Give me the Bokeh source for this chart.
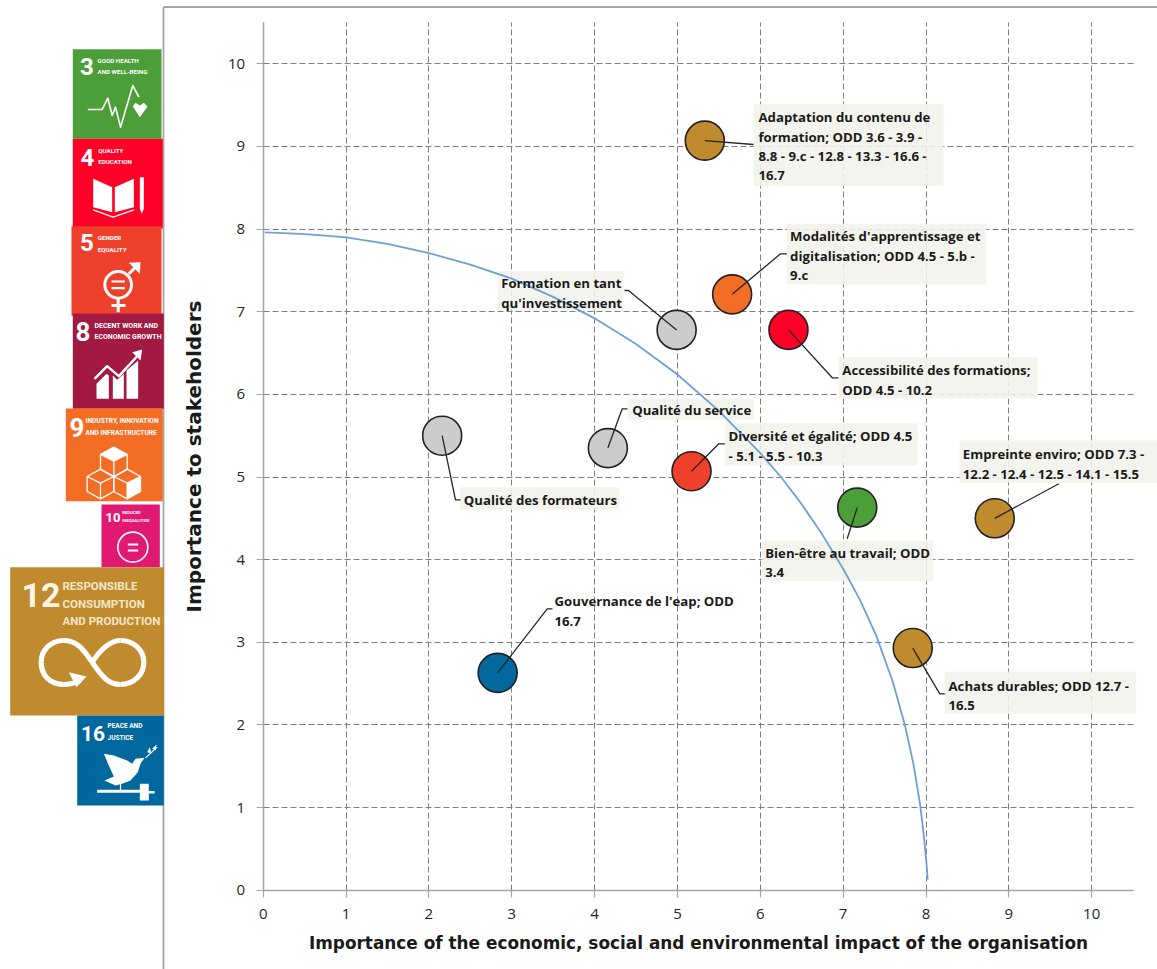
from bokeh.plotting import figure
from bokeh.embed import file_html
from bokeh.resources import INLINE
from bokeh.models import LinearAxis, Grid, FixedTicker, Range1d
from bokeh.core.properties import value

# ---------- data ----------
names = ["Adaptation", "Modalites", "Formation", "Accessibilite", "Diversite", "BienEtre",
         "Empreinte", "Achats", "QFormateurs", "QService", "Gouvernance"]
x_values = [5.33, 5.66, 4.99, 6.34, 5.17, 7.17, 8.83, 7.84, 2.16, 4.16, 2.83]
y_values = [9.07, 7.21, 6.78, 6.78, 5.07, 4.63, 4.50, 2.93, 5.50, 5.35, 2.63]
point_colors = ["#BF8B2E", "#F36D25", "#CCCCCC", "#FF0027", "#EF402B", "#4C9F38",
                "#BF8B2E", "#BF8B2E", "#CCCCCC", "#CCCCCC", "#00689D"]
label_lines = [
    ["Adaptation du contenu de", "formation; ODD 3.6 - 3.9 -", "8.8 - 9.c - 12.8 - 13.3 - 16.6 -", "16.7"],
    ["Modalités d'apprentissage et", "digitalisation; ODD 4.5 - 5.b -", "9.c"],
    ["Formation en tant", "qu'investissement"],
    ["Accessibilité des formations;", "ODD 4.5 - 10.2"],
    ["Diversité et égalité; ODD 4.5", "- 5.1 - 5.5 - 10.3"],
    ["Bien-être au travail; ODD", "3.4"],
    ["Empreinte enviro; ODD 7.3 -", "12.2 - 12.4 - 12.5 - 14.1 - 15.5"],
    ["Achats durables; ODD 12.7 -", "16.5"],
    ["Qualité des formateurs"],
    ["Qualité du service"],
    ["Gouvernance de l'eap; ODD", "16.7"],
]
curve_x = [0.02, 0.25, 0.5, 0.75, 1.0, 1.5, 2.0, 2.5, 3.0, 3.5, 4.0, 4.5, 5.0, 5.5, 6.0, 6.25, 6.5, 6.75, 7.0,
           7.2, 7.4, 7.6, 7.75, 7.85, 7.93, 7.98, 8.01, 8.02]
curve_y = [7.96, 7.95, 7.94, 7.92, 7.90, 7.82, 7.71, 7.57, 7.40, 7.18, 6.92, 6.61, 6.24, 5.80, 5.29, 5.00, 4.67, 4.30, 3.89,
           3.52, 3.08, 2.52, 1.98, 1.52, 1.03, 0.60, 0.28, 0.13]
tick_values = list(range(0, 11))
x_title = "Importance of the economic, social and environmental impact of the organisation"
y_title = "Importance to stakeholders"

# ---------- layout (page pixels) ----------
X0, PXX = 262.7, 82.85
Y0, PXY = 889.7, 82.64
def X(px): return (px - X0) / PXX
def Y(py): return (Y0 - py) / PXY
def XS(v): return [X(a) for a in v]
def YS(v): return [Y(a) for a in v]

label_boxes = [
    (753.2, 942.9, 103.3, 185.7), (786.4, 986.0, 223.3, 284.0), (497.0, 623.0, 270.3, 310.0),
    (838.0, 1037.0, 356.7, 398.0), (724.3, 917.3, 422.7, 465.0), (761.0, 932.7, 540.0, 580.7),
    (959.0, 1156.7, 440.0, 482.3), (944.3, 1135.7, 671.0, 713.3), (459.3, 619.0, 486.7, 509.3),
    (627.7, 753.3, 398.3, 419.3), None,
]
label_text_x = [758, 789.6, 500.7, 841.8, 728, 764.7, 962.3, 948, 463.3, 631.7, 554]
label_text_y = [
    [116.7, 136.7, 155.7, 175], [235, 255, 274], [282.7, 302.7], [369.3, 389], [435, 455],
    [552, 572], [453.3, 473.3], [685, 705], [499], [409.7], [600.7, 620.7],
]
leader_ends = [
    [(753, 144)], [(780, 253.3), (786.4, 253.3)], [(628, 290), (624, 290)],
    [(831.8, 377.3), (838, 377.3)], [(718.3, 443.3), (724.3, 443.3)], [(846.7, 538.3)],
    [(1058.3, 483.3)], [(939.3, 693.3), (944.3, 693.3)], [(455, 499.3), (460, 499.3)],
    [(621.7, 408.3), (627, 408.3)], [(546.7, 608.3), (552, 608.3)],
]

W, H = 1157, 969
p = figure(width=W, height=H, output_backend="svg", toolbar_location=None,
           x_range=Range1d(X(0), X(W)), y_range=Range1d(Y(H), Y(0)),
           x_axis_location=None, y_axis_location=None,
           min_border=0, min_border_left=0, min_border_right=0, min_border_top=0, min_border_bottom=0)
p.outline_line_color = None
p.grid.visible = False
p.background_fill_color = "white"

LABEL_FONT = "Open Sans"
AX_GRAY = "#a6a6a6"

# axes
xax = LinearAxis(fixed_location=0, bounds=(0, 10.5), ticker=FixedTicker(ticks=tick_values))
yax = LinearAxis(fixed_location=0, bounds=(0, 10.5), ticker=FixedTicker(ticks=tick_values))
for ax in (xax, yax):
    ax.axis_line_color = AX_GRAY
    ax.axis_line_width = 1.6
    ax.major_tick_line_color = AX_GRAY
    ax.major_tick_line_width = 1.2
    ax.major_tick_in = 0
    ax.major_tick_out = 7
    ax.minor_tick_line_color = None
    ax.major_label_text_font = "Open Sans"
    ax.major_label_text_font_size = "15px"
    ax.major_label_text_color = "#262626"
xax.major_label_standoff = 12
yax.major_label_standoff = 11
xax.axis_label = x_title
xax.axis_label_text_font = "DejaVu Sans"
xax.axis_label_text_font_style = "bold"
xax.axis_label_text_font_size = "16.9px"
xax.axis_label_text_color = "#1a1a1a"
xax.axis_label_standoff = 10
yax.axis_label = y_title
yax.axis_label_text_font = "DejaVu Sans"
yax.axis_label_text_font_style = "bold"
yax.axis_label_text_font_size = "20px"
yax.axis_label_text_color = "#1a1a1a"
yax.axis_label_standoff = 19
p.add_layout(xax, "below")
p.add_layout(yax, "left")

for dim in (0, 1):
    g = Grid(dimension=dim, ticker=FixedTicker(ticks=tick_values), bounds=(0, 10.5),
             cross_bounds=(0, 10.5))
    g.grid_line_color = "#7f7f7f"
    g.grid_line_dash = "6 3"
    g.grid_line_width = 1
    p.add_layout(g)

# outer frame
p.line(XS([163, 163]), YS([969, 6.5]), line_color=AX_GRAY, line_width=1.8)
p.line(XS([163, 1157]), YS([6.5, 6.5]), line_color=AX_GRAY, line_width=1.8)

# label boxes
for b in label_boxes:
    if b:
        p.quad(left=X(b[0]), right=X(b[1]), top=Y(b[2]), bottom=Y(b[3]),
               fill_color="#f3f2ec", fill_alpha=0.88, line_color=None)

# curve
p.line(curve_x, curve_y, line_color="#6f9fd6", line_width=1.8, line_join="round")

# points
p.scatter(x_values, y_values, size=39, marker="circle", fill_color=point_colors,
          line_color="#222222", line_width=1.6)

# leaders
for xv, yv, ends in zip(x_values, y_values, leader_ends):
    p.line([xv] + [X(e[0]) for e in ends], [yv] + [Y(e[1]) for e in ends],
           line_color="#262626", line_width=1.3)

# label texts
for lines, tx, tys in zip(label_lines, label_text_x, label_text_y):
    for line, ty in zip(lines, tys):
        p.text([X(tx)], [Y(ty)], text=[line], text_font=value(LABEL_FONT), text_font_style="bold",
               text_font_size="13.2px", text_color="#1a1a1a", text_baseline="middle", text_align="left")

# ---------- SDG icon column (page pixels; art given at 3x zoom) ----------
NARROW = "Roboto"
def ic_text(px, py, s, size, color="white"):
    p.text([X(px)], [Y(py)], text=[s], text_font=value(NARROW), text_font_style="bold",
           text_font_size=f"{size}px", text_color=color, text_baseline="middle", text_align="left")
def z(pts, oy=0):
    return [X(a / 3) for a, b in pts], [Y(b / 3 + oy) for a, b in pts]
def pl(pts, w=1.5, oy=0, cap="butt"):
    xs, ys = z(pts, oy)
    p.line(xs, ys, line_color="white", line_width=w, line_cap=cap, line_join="round")
def pg(pts, oy=0, color="white"):
    xs, ys = z(pts, oy)
    p.patch(xs, ys, fill_color=color, line_color=None)
def ring(cx, cy, r, w, oy=0):
    p.scatter([X(cx / 3)], [Y(cy / 3 + oy)], size=2 * r / 3, marker="circle",
              fill_color=None, line_color="white", line_width=w)
def bz(a, c1, c2, b, w, oy=0):
    xs, ys = z([a, c1, c2, b], oy)
    p.bezier(x0=[xs[0]], y0=[ys[0]], cx0=[xs[1]], cy0=[ys[1]], cx1=[xs[2]], cy1=[ys[2]],
             x1=[xs[3]], y1=[ys[3]], line_color="white", line_width=w)

icons = [
    (72.3, 161.0, 48.7, 138.3, "#4C9F38"),
    (72.3, 162.3, 138.3, 228.0, "#FF0027"),
    (71.0, 161.0, 225.7, 315.3, "#EF402B"),
    (72.3, 163.3, 313.0, 408.3, "#A21942"),
    (65.3, 162.3, 408.0, 500.7, "#F36D25"),
    (101.0, 159.3, 504.0, 566.7, "#E01A72"),
    (9.7, 163.5, 566.7, 715.0, "#BF8B2E"),
    (76.7, 163.3, 715.0, 805.0, "#00689D"),
]
for l, r, t, b, c in icons:
    p.quad(left=X(l), right=X(r), top=Y(t), bottom=Y(b), fill_color=c, line_color=None)

# 3
ic_text(79.5, 66, "3", 24)
ic_text(97, 60, "GOOD HEALTH", 6.2); ic_text(97, 71, "AND WELL-BEING", 6.2)
pl([(262, 327), (305, 327), (322, 293), (335, 345), (345, 320), (360, 380), (397, 255), (415, 290)], 1.6)
pg([(397, 318), (405, 307), (418, 315), (430, 307), (441, 318), (418, 350)])
# 4
ic_text(80, 157, "4", 24)
ic_text(97.7, 150, "QUALITY", 6.2); ic_text(97.7, 161, "EDUCATION", 6.2)
pg([(278, 535), (335, 560), (335, 635), (278, 620)])
pg([(343, 560), (400, 535), (400, 620), (343, 635)])
pl([(278, 628), (338, 650), (400, 628)], 1.2)
pg([(418, 530), (430, 530), (430, 625), (424, 640), (418, 625)])
# 5
ic_text(79.5, 242, "5", 24)
ic_text(97.3, 237.5, "GENDER", 6.2); ic_text(97.3, 249, "EQUALITY", 6.2)
ring(353, 853, 40, 3)
pl([(333, 843), (373, 843)], 2.2); pl([(333, 863), (373, 863)], 2.2)
pl([(353, 895), (353, 935)], 3); pl([(333, 915), (375, 915)], 3)
pl([(385, 820), (412, 793)], 3)
pg([(385, 787), (420, 785), (418, 820)])
# 8
ic_text(75, 331, "8", 26)
ic_text(94, 325, "DECENT WORK AND", 7); ic_text(94, 336.7, "ECONOMIC GROWTH", 7)
pg([(288, 1150), (318, 1120), (325, 1125), (325, 1195), (288, 1195)])
pg([(337, 1125), (350, 1138), (370, 1120), (370, 1195), (337, 1195)])
pg([(378, 1110), (413, 1080), (413, 1195), (378, 1195)])
pl([(282, 1135), (320, 1097), (355, 1127), (412, 1065)], 2.4)
pg([(395, 1055), (425, 1047), (420, 1080)])
# 9
ic_text(69, 427, "9", 26)
ic_text(85, 420.7, "INDUSTRY, INNOVATION", 6.6); ic_text(85, 432.7, "AND INFRASTRUCTURE", 6.6)
for cx, cy in [(340, 182), (300, 248), (380, 248)]:
    pl([(cx, cy - 42), (cx + 40, cy - 20), (cx + 40, cy + 25), (cx, cy + 47), (cx - 40, cy + 25),
        (cx - 40, cy - 20), (cx, cy - 42)], 1.3, oy=400)
    pl([(cx - 40, cy - 20), (cx, cy), (cx + 40, cy - 20)], 1.3, oy=400)
    pl([(cx, cy), (cx, cy + 47)], 1.3, oy=400)
pg([(340, 140), (380, 160), (340, 182), (300, 160)], oy=400)
pg([(380, 248), (420, 228), (420, 273), (380, 295)], oy=400)
# 10
ic_text(105, 517, "10", 13)
ic_text(121.7, 512, "REDUCED", 4.2); ic_text(121.7, 520, "INEQUALITIES", 4.2)
ring(397, 440, 45, 1.6, oy=400)
pl([(382, 432), (413, 432)], 2.2, oy=400); pl([(382, 450), (413, 450)], 2.2, oy=400)
# 12
ic_text(21, 594, "12", 34, "#fbf4e2")
ic_text(62, 585.7, "RESPONSIBLE", 11.5, "#f3e6c6")
ic_text(62, 603, "CONSUMPTION", 11.5, "#f3e6c6")
ic_text(62, 620.7, "AND PRODUCTION", 11.5, "#f3e6c6")
for seg in [
    ((275, 785), (245, 740), (225, 720), (190, 720)),
    ((190, 720), (150, 720), (122, 750), (122, 785)),
    ((122, 785), (122, 825), (150, 852), (190, 852)),
    ((190, 852), (205, 852), (225, 847), (240, 840)),
    ((275, 785), (305, 830), (325, 852), (360, 852)),
    ((360, 852), (400, 852), (430, 822), (430, 785)),
    ((430, 785), (430, 750), (400, 720), (360, 720)),
    ((360, 720), (325, 720), (295, 755), (275, 785)),
]:
    bz(*seg, 5.2, oy=400)
pg([(205, 815), (258, 828), (228, 860)], oy=400)
# 16
ic_text(80.5, 733, "16", 21)
ic_text(107, 725.7, "PEACE AND", 6.5); ic_text(107, 737.3, "JUSTICE", 6.5)
pg([(310, 1060), (340, 1065), (380, 1080), (395, 1090), (405, 1075), (432, 1072), (420, 1090), (412, 1115),
    (390, 1140), (365, 1150), (345, 1155), (312, 1140), (340, 1128), (325, 1095)], oy=400)
pl([(435, 1072), (470, 1040)], 1.2, oy=400)
pg([(440, 1055), (448, 1040), (452, 1058)], oy=400)
pg([(455, 1045), (468, 1032), (466, 1050)], oy=400)
pl([(360, 1150), (360, 1170)], 1.2, oy=400)
pl([(290, 1172), (420, 1172)], 3, oy=400)
pg([(418, 1150), (445, 1150), (445, 1200), (418, 1200)], oy=400)
pl([(445, 1175), (462, 1175)], 2.5, oy=400)

open("out.html", "w").write(file_html(p, INLINE))
